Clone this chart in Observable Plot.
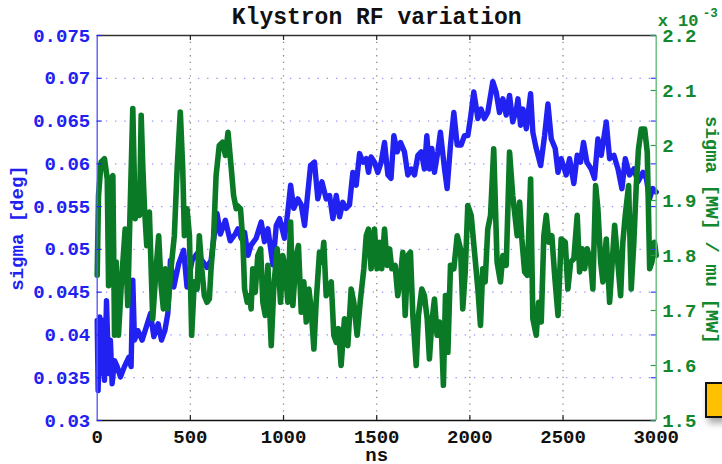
<!DOCTYPE html>
<html>
<head>
<meta charset="utf-8">
<script src="https://cdn.jsdelivr.net/npm/d3@7"></script>
<script src="https://cdn.jsdelivr.net/npm/@observablehq/plot@0.6"></script>
<style>
  html, body { margin: 0; padding: 0; background: #fff; }
  #wrap { position: relative; width: 722px; height: 464px; overflow: hidden; }
  #badge {
    position: absolute; left: 705px; top: 382px; width: 40px; height: 32px;
    background: #ffc000; border: 2.7px solid #111;
    box-shadow: 3px 5px 7px rgba(0,0,0,0.35);
  }
</style>
</head>
<body>
<div id="wrap"></div>
<script>
// Phase jitter of the klystron output (left axis, degrees)
const blueNs = [0,5,14,23,32,39,50,61,71,80,93,107,125,146,170,182,191,200,218,241,263,286,304,327,345,363,379,393,411,437,464,482,509,536,563,589,611,643,661,688,714,741,755,773,791,809,826,853,880,898,916,943,961,979,1005,1023,1038,1055,1077,1095,1113,1122,1145,1166,1184,1206,1229,1247,1265,1283,1301,1318,1336,1354,1372,1390,1408,1426,1444,1456,1470,1488,1506,1524,1542,1560,1577,1592,1610,1628,1649,1667,1685,1703,1721,1739,1756,1769,1783,1796,1810,1828,1842,1864,1878,1896,1914,1932,1953,1971,1989,2003,2021,2043,2060,2078,2096,2123,2141,2159,2177,2195,2213,2230,2250,2258,2272,2285,2303,2326,2338,2356,2380,2401,2419,2437,2458,2473,2490,2517,2535,2558,2576,2594,2610,2628,2651,2669,2687,2705,2732,2750,2773,2795,2816,2834,2857,2880,2902,2929,2947,2964,2982,3000];
const sigmaDeg = [0.0417,0.0335,0.0421,0.0355,0.0417,0.0347,0.0440,0.0355,0.0394,0.0343,0.0370,0.0363,0.0351,0.0363,0.0374,0.0363,0.0464,0.0394,0.0405,0.0394,0.0409,0.0425,0.0398,0.0413,0.0394,0.0405,0.0425,0.0487,0.0456,0.0483,0.0499,0.0456,0.0487,0.0495,0.0487,0.0479,0.0487,0.0542,0.0518,0.0534,0.0510,0.0518,0.0524,0.0513,0.0520,0.0493,0.0505,0.0513,0.0532,0.0509,0.0524,0.0482,0.0528,0.0536,0.0513,0.0544,0.0575,0.0548,0.0559,0.0552,0.0528,0.0548,0.0598,0.0602,0.0559,0.0579,0.0559,0.0563,0.0536,0.0563,0.0538,0.0555,0.0548,0.0552,0.0590,0.0575,0.0612,0.0602,0.0606,0.0590,0.0608,0.0602,0.0590,0.0602,0.0625,0.0587,0.0583,0.0633,0.0614,0.0625,0.0614,0.0587,0.0594,0.0587,0.0610,0.0614,0.0594,0.0633,0.0594,0.0618,0.0590,0.0614,0.0637,0.0594,0.0571,0.0622,0.0660,0.0622,0.0622,0.0633,0.0633,0.0653,0.0684,0.0653,0.0664,0.0653,0.0660,0.0696,0.0684,0.0660,0.0676,0.0657,0.0680,0.0649,0.0664,0.0676,0.0645,0.0664,0.0641,0.0682,0.0637,0.0618,0.0598,0.0633,0.0670,0.0629,0.0618,0.0590,0.0606,0.0587,0.0606,0.0577,0.0610,0.0602,0.0625,0.0602,0.0594,0.0583,0.0629,0.0610,0.0649,0.0606,0.0610,0.0594,0.0571,0.0606,0.0587,0.0594,0.0579,0.0590,0.0583,0.0559,0.0571,0.0567];

// Relative amplitude jitter sigma/mu (right axis, units of 1e-3)
const greenNs = [0,7,21,39,54,61,71,84,93,102,114,129,150,164,173,191,204,214,227,236,245,254,266,280,298,316,330,343,355,366,379,396,414,429,446,459,468,482,495,507,521,536,548,561,575,589,602,611,625,638,655,673,688,702,718,732,746,751,769,782,791,805,818,826,835,848,862,877,889,902,916,934,948,966,984,996,1009,1023,1038,1050,1068,1080,1095,1109,1122,1136,1148,1163,1175,1193,1206,1216,1229,1241,1256,1270,1283,1295,1309,1327,1345,1363,1377,1395,1413,1431,1444,1456,1470,1488,1502,1515,1527,1542,1556,1569,1581,1599,1613,1628,1640,1653,1667,1681,1694,1712,1724,1742,1756,1771,1783,1796,1810,1824,1837,1846,1858,1869,1882,1896,1914,1932,1950,1962,1975,1989,2007,2025,2043,2057,2069,2082,2096,2111,2128,2146,2164,2177,2195,2213,2230,2254,2267,2279,2294,2308,2326,2338,2356,2369,2383,2397,2410,2424,2440,2455,2473,2490,2512,2526,2541,2558,2576,2589,2603,2616,2630,2648,2660,2675,2687,2702,2714,2732,2750,2764,2777,2791,2809,2821,2834,2852,2866,2880,2893,2905,2920,2938,2952,2965,2977,2991,3000];
const sigmaOverMu = [1.764,1.909,1.970,1.976,1.939,1.745,1.939,1.945,1.655,1.788,1.655,1.745,1.848,1.709,1.836,2.067,1.867,1.885,1.873,2.055,1.958,1.885,1.818,1.879,1.685,1.776,1.836,1.745,1.703,1.776,1.703,1.776,1.836,1.958,2.061,1.958,1.836,1.885,1.836,1.655,1.752,1.739,1.836,1.776,1.727,1.715,1.721,1.776,1.836,1.945,2.000,2.006,1.982,2.024,1.964,1.909,1.885,1.891,1.885,1.824,1.739,1.715,1.727,1.703,1.776,1.733,1.800,1.812,1.715,1.691,1.782,1.636,1.745,1.812,1.715,1.800,1.776,1.715,1.861,1.709,1.800,1.818,1.697,1.752,1.679,1.739,1.703,1.630,1.715,1.806,1.788,1.824,1.727,1.739,1.752,1.655,1.642,1.667,1.600,1.685,1.636,1.739,1.715,1.655,1.721,1.776,1.836,1.848,1.776,1.848,1.776,1.824,1.776,1.848,1.782,1.812,1.776,1.782,1.727,1.764,1.806,1.691,1.800,1.806,1.691,1.600,1.691,1.739,1.727,1.685,1.612,1.679,1.721,1.655,1.679,1.673,1.564,1.727,1.624,1.782,1.776,1.836,1.812,1.703,1.770,1.891,1.873,1.806,1.739,1.673,1.776,1.752,1.848,1.873,1.994,1.788,1.752,1.800,1.782,1.988,1.909,1.836,1.897,1.830,1.770,1.764,1.939,1.685,1.655,1.715,1.679,1.836,1.873,1.824,1.836,1.764,1.691,1.830,1.824,1.739,1.788,1.794,1.873,1.770,1.812,1.776,1.812,1.788,1.739,1.927,1.885,1.788,1.752,1.830,1.715,1.788,1.855,1.800,1.727,1.824,1.873,1.927,1.739,1.824,1.927,1.994,2.030,2.030,1.988,1.776,1.788,1.824,1.800];

// Axis ticks
const xTicks = [0, 500, 1000, 1500, 2000, 2500, 3000];
const leftTicks = [0.03, 0.035, 0.04, 0.045, 0.05, 0.055, 0.06, 0.065, 0.07, 0.075];
const rightTicks = [1.5, 1.6, 1.7, 1.8, 1.9, 2.0, 2.1, 2.2];

const BLUE = "#2121f2";
const GREEN = "#0a7a26";
const GREEN_TEXT = "#12882e";
const W = 722, H = 464;
const mTop = 35, mRight = 66.3, mBottom = 44, mLeft = 96.7;
const innerW = W - mLeft - mRight, innerH = H - mTop - mBottom;
const TICK = 5;

// Right-axis values share the plot's y scale through a linear mapping
const toLeft = d3.scaleLinear([1.5, 2.2], [0.03, 0.075]);

const blue = blueNs.map((t, i) => ({t, v: sigmaDeg[i]}));
const green = greenNs.map((t, i) => ({t, v: toLeft(sigmaOverMu[i])}));

const fmt3 = d => String(+d.toFixed(3));
const fmt1 = d => String(+d.toFixed(1));
const inner = xTicks.slice(1, -1);

const chart = Plot.plot({
  width: W, height: H,
  marginTop: mTop, marginRight: mRight, marginBottom: mBottom, marginLeft: mLeft,
  x: {domain: [0, 3000]},
  y: {domain: [0.03, 0.075]},
  style: {
    fontFamily: "'Liberation Mono', 'Courier New', monospace",
    fontWeight: "bold", fontSize: "19px", background: "#fff", overflow: "visible"
  },
  marks: [
    // dotted grid
    Plot.ruleX(inner, {stroke: "#8a8a8a", strokeWidth: 1.3, strokeDasharray: "1.3,5.4"}),
    Plot.ruleY(leftTicks.slice(1, -1), {stroke: "#8f8fff", strokeWidth: 1.3, strokeDasharray: "1.3,7.9"}),
    // series
    Plot.line(blue, {x: "t", y: "v", stroke: BLUE, strokeWidth: 5.4, strokeLinejoin: "round", strokeLinecap: "round"}),
    Plot.line(green, {x: "t", y: "v", stroke: GREEN, strokeWidth: 5.6, strokeLinejoin: "round", strokeLinecap: "round"}),
    // box edges
    Plot.ruleY([0.075], {stroke: "#333", strokeWidth: 1.4}),
    Plot.ruleY([0.03], {stroke: "#111", strokeWidth: 1.6}),
    Plot.ruleX([0], {stroke: "#5c5cff", strokeWidth: 1.4}),
    Plot.ruleX([3000], {stroke: "#66bb77", strokeWidth: 1.4}),
    // inward ticks
    Plot.tickY(leftTicks, {y: d => d, stroke: BLUE, strokeWidth: 1.2, insetRight: innerW - TICK}),
    Plot.tickY(leftTicks, {y: d => d, stroke: "#3a3aff", strokeWidth: 1.2, insetLeft: innerW - TICK}),
    Plot.tickY(rightTicks.map(toLeft), {y: d => d, stroke: "#2e9a45", strokeWidth: 1.2, insetLeft: innerW - TICK}),
    Plot.tickX(inner, {x: d => d, stroke: "#222", strokeWidth: 1.2, insetTop: innerH - TICK}),
    Plot.tickX(inner, {x: d => d, stroke: "#222", strokeWidth: 1.2, insetBottom: innerH - TICK}),
    // tick labels
    Plot.axisX(xTicks, {anchor: "bottom", tickSize: 0, tickPadding: 9, label: null, fill: "#111", tickFormat: d => String(d)}),
    Plot.axisY(leftTicks, {anchor: "left", tickSize: 0, tickPadding: 7, label: null, fill: BLUE, tickFormat: fmt3}),
    Plot.axisY(rightTicks.map(toLeft), {anchor: "right", tickSize: 0, tickPadding: 6, label: null, fill: GREEN_TEXT, tickFormat: d => fmt1(toLeft.invert(d))}),
    // titles
    Plot.text(["Klystron RF variation"], {frameAnchor: "top", dy: -18.5, fontSize: 23, fill: "#111", lineAnchor: "middle"}),
    Plot.text(["ns"], {frameAnchor: "bottom", dy: 34.5, fontSize: 19, fill: "#111", lineAnchor: "middle"}),
    Plot.text(["sigma [deg]"], {frameAnchor: "left", textAnchor: "middle", dx: -80.5, dy: 0, rotate: -90, fill: BLUE, lineAnchor: "middle"}),
    Plot.text(["sigma [MW] / mu [MW]"], {frameAnchor: "right", textAnchor: "middle", dx: 55.5, dy: 2, rotate: 90, fill: GREEN_TEXT, lineAnchor: "middle"}),
    Plot.text(["x 10"], {frameAnchor: "top-right", textAnchor: "start", dx: 1.5, dy: -15.4, fontSize: 17, fill: GREEN_TEXT, lineAnchor: "middle"}),
    Plot.text(["-3"], {frameAnchor: "top-right", textAnchor: "start", dx: 46.5, dy: -22.3, fontSize: 12.5, fill: GREEN_TEXT, lineAnchor: "middle"})
  ]
});

const wrap = document.getElementById("wrap");
wrap.appendChild(chart);
const badge = document.createElement("div");
badge.id = "badge";
wrap.appendChild(badge);
</script>
</body>
</html>
